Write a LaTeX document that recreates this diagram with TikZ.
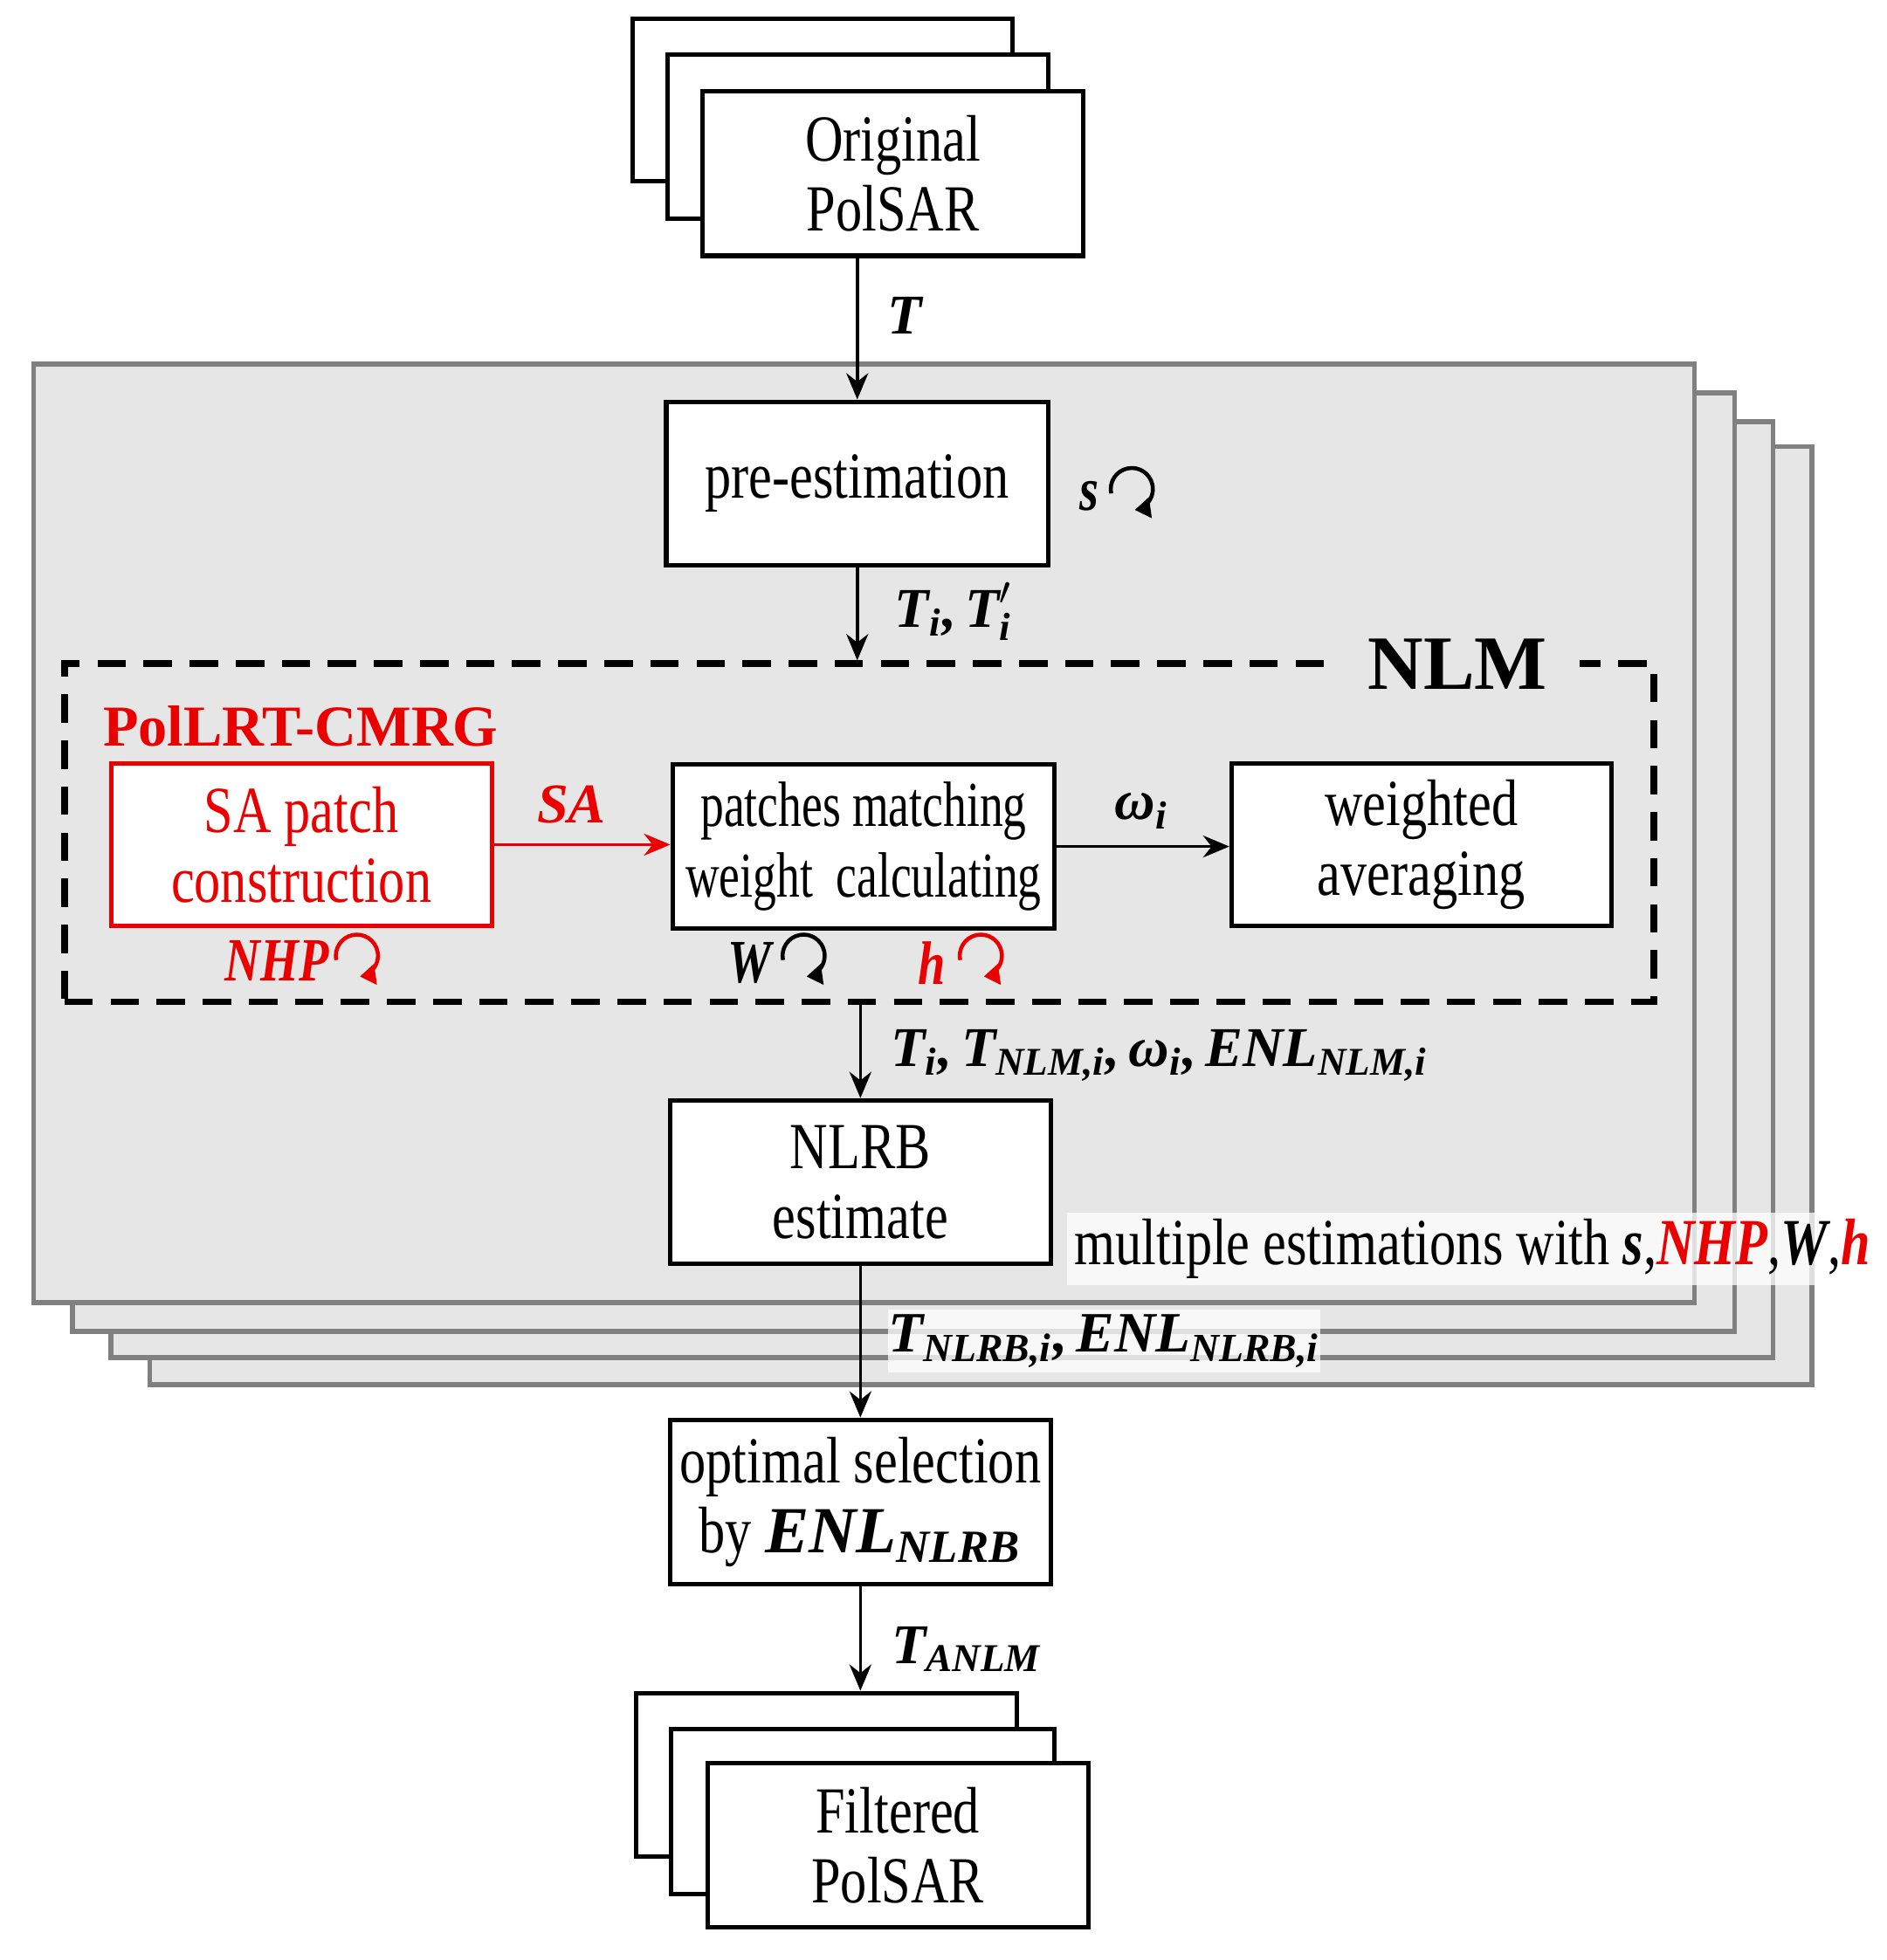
\documentclass[tikz,border=0pt]{standalone}
\usepackage{amsmath}
\usepackage{fontspec}
\setmainfont{Liberation Serif}[FakeStretch=0.8]
\newfontfamily\lblfont{Liberation Serif}
\usetikzlibrary{arrows.meta}
\definecolor{panelgray}{RGB}{230,230,230}
\definecolor{panelline}{RGB}{128,128,128}
\definecolor{myred}{RGB}{235,0,0}
\newcommand\bv[1]{\text{\lblfont\bfseries\itshape #1}}
\newcommand\bvs[1]{{\bfseries\itshape #1}}
\tikzset{
  box/.style={draw, line width=1pt, fill=white, align=center, inner sep=0pt,
    font=\fontsize{15}{16}\selectfont},
  redbox/.style={box, draw=myred, text=myred},
  panel/.style={draw=panelline, fill=panelgray, line width=1.1pt},
  arr/.style={-{Stealth[length=6pt,width=5pt]}, line width=0.7pt},
  lbl/.style={inner sep=1pt, font=\fontsize{12.8}{15}\selectfont},
  looparrow/.pic={\draw[line width=0.9pt,-{Triangle[length=3.6pt,width=4.6pt]}]
     (192:4.8pt) arc[start angle=192,end angle=-82,radius=4.8pt];}
}
\begin{document}
\begin{tikzpicture}[x=0.01cm,y=0.01cm]
\useasboundingbox (0,0) rectangle (1512,-1571);
% stacked grey panels
\draw[panel] (120,-358) rectangle (1452,-1110);
\draw[panel] (89,-338) rectangle (1421,-1088);
\draw[panel] (58,-315) rectangle (1390,-1067);
\draw[panel] (27,-292) rectangle (1358,-1044);
% original PolSAR stack
\node[box, minimum width=3.04cm, minimum height=1.30cm] (origB) at (659,-80) {};
\node[box, minimum width=3.05cm, minimum height=1.31cm] (origM) at (687.5,-109.5) {};
\node[box, minimum width=3.05cm, minimum height=1.32cm] (orig) at (715.5,-139) {Original\\PolSAR};
% pre-estimation
\node[box, minimum width=3.06cm, minimum height=1.31cm] (pre) at (687,-387.5) {pre-estimation};
% NLM dashed frame
\node[draw, dashed, dash pattern=on 6.5pt off 4pt, line width=1.5pt,
      minimum width=12.73cm, minimum height=2.71cm, inner sep=0pt] (nlm) at (688.5,-667.5) {};
\node[fill=panelgray, inner xsep=0.26cm, inner ysep=1pt,
      font=\lblfont\bfseries\fontsize{17.5}{20}\selectfont] (nlmlbl) at (1168,-532) {NLM};
% inner boxes
\node[redbox, minimum width=3.05cm, minimum height=1.30cm] (sa) at (241.5,-677) {SA patch\\construction};
\node[box, minimum width=3.06cm, minimum height=1.31cm,
      font=\fontsize{14.6}{16}\selectfont\addfontfeature{FakeStretch=0.73}] (pm) at (692,-678.5)
  {patches matching\\weight\ \ calculating};
\node[box, minimum width=3.04cm, minimum height=1.30cm] (wa) at (1139,-677) {weighted\\averaging};
\node[font=\lblfont\bfseries\fontsize{13.2}{15}\selectfont, text=myred, inner sep=0pt] (pol) at (241,-582) {PolLRT-CMRG};
% NLRB and optimal selection
\node[box, minimum width=3.05cm, minimum height=1.31cm] (nlrb) at (689.5,-947.5) {NLRB\\estimate};
\node[box, minimum width=3.05cm, minimum height=1.32cm] (opt) at (689.5,-1204)
  {optimal selection\\by $\bv{ENL}_{\bv{NLRB}}$};
% filtered PolSAR stack
\node[box, minimum width=3.05cm, minimum height=1.31cm] (filtB) at (662.5,-1422.5) {};
\node[box, minimum width=3.07cm, minimum height=1.32cm] (filtM) at (691.5,-1452) {};
\node[box, minimum width=3.05cm, minimum height=1.32cm] (filt) at (719.5,-1479) {Filtered\\PolSAR};
% connectors
\draw[arr] (pre.north |- orig.south) -- (pre.north);
\draw[arr] (pre.south) -- (pre.south |- nlm.north);
\draw[arr, draw=myred, fill=myred] (sa.east) -- (sa.east -| pm.west);
\draw[arr] (pm.east) -- (pm.east -| wa.west);
\draw[arr] (nlrb.north |- nlm.south) -- (nlrb.north);
\draw[arr] (nlrb.south) -- (opt.north);
\draw[arr] (opt.south) -- (opt.south |- filtB.north);
% labels
\node[lbl] (lT) at (725,-253) {$\bv{T}$};
\node[lbl, font=\fontsize{14}{15}\selectfont] (ls) at (873,-398) {\bvs{s}};
\pic at (907,-392) {looparrow};
\node[lbl, anchor=west] (lTi) at (713,-490) {$\bv{T}_{\bv{i}}\bv{,}\,\bv{T}'_{\bv{i}}$};
\node[lbl, text=myred] (lSA) at (458,-645) {$\bv{SA}$};
\node[lbl] (lw) at (915,-650) {$\bv{ω}_{\bv{i}}$};
\node[lbl, text=myred, font=\fontsize{14}{15}\selectfont] (lNHP) at (222,-770) {\bvs{NHP}};
\pic[myred] at (286,-766) {looparrow};
\node[lbl, font=\fontsize{14}{15}\selectfont] (lW) at (601,-772) {\bvs{W}};
\pic at (644,-766) {looparrow};
\node[lbl, text=myred, font=\fontsize{14}{15}\selectfont] (lh) at (747,-772) {\bvs{h}};
\pic[myred] at (786,-766) {looparrow};
\node[lbl, anchor=west] (lTn) at (710,-846)
  {$\bv{T}_{\bv{i}}\bv{,}\,\bv{T}_{\bv{NLM,i}}\bv{,}\,\bv{ω}_{\bv{i}}\bv{,}\,\bv{ENL}_{\bv{NLM,i}}$};
\node[fill=white, fill opacity=0.75, text opacity=1, minimum width=6.5cm, minimum height=0.58cm,
      inner sep=0pt, font=\fontsize{15}{16}\selectfont] (lmult) at (1180,-1001)
  {multiple estimations with \bvs{s},{\color{myred}\bvs{NHP}},\bvs{W},{\color{myred}\bvs{h}}};
\node[fill=white, fill opacity=0.75, text opacity=1, minimum width=3.46cm, minimum height=0.5cm,
      inner sep=0pt, font=\fontsize{13}{15}\selectfont] (lTnlrb) at (885,-1075)
  {$\bv{T}_{\bv{NLRB,i}}\bv{,}\,\bv{ENL}_{\bv{NLRB,i}}$};
\node[lbl] (lTa) at (775,-1322) {$\bv{T}_{\bv{ANLM}}$};
\end{tikzpicture}
\end{document}
